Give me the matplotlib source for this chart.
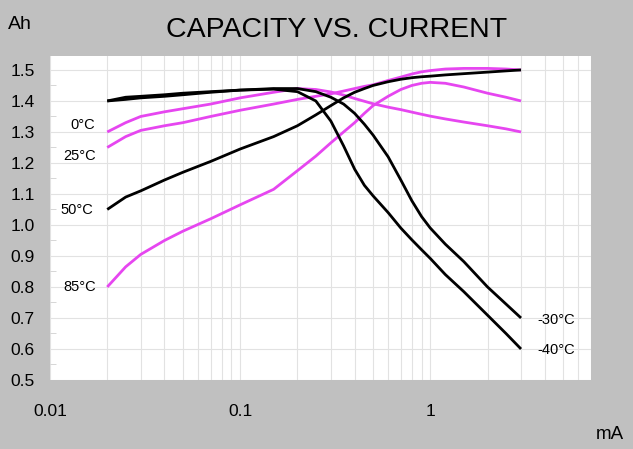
import matplotlib
matplotlib.use('Agg')
import matplotlib.pyplot as plt
from matplotlib.ticker import FixedLocator, FixedFormatter, MultipleLocator, LogLocator, NullFormatter

plt.rcParams['font.family'] = ['Liberation Sans', 'DejaVu Sans']

# Corriente (mA) comun a todas las curvas
current = [0.02, 0.025, 0.03, 0.04, 0.05, 0.07, 0.1, 0.15, 0.2, 0.25, 0.3,
           0.35, 0.4, 0.45, 0.5, 0.6, 0.7, 0.8, 0.9, 1, 1.2, 1.5, 2, 2.5, 3]

cap_m40 = [1.40, 1.412, 1.415, 1.42, 1.425, 1.43, 1.435, 1.438, 1.43, 1.40, 1.335,
           1.255, 1.18, 1.128, 1.094, 1.04, 0.99, 0.952, 0.92, 0.892, 0.84, 0.785,
           0.709, 0.65, 0.60]
cap_m30 = [1.40, 1.405, 1.41, 1.415, 1.42, 1.428, 1.435, 1.44, 1.44, 1.43, 1.412,
           1.39, 1.36, 1.325, 1.29, 1.22, 1.145, 1.078, 1.027, 0.99, 0.938, 0.882,
           0.80, 0.745, 0.70]
cap_50 = [1.05, 1.09, 1.11, 1.145, 1.17, 1.205, 1.245, 1.285, 1.32, 1.355, 1.385,
          1.41, 1.428, 1.44, 1.45, 1.462, 1.47, 1.475, 1.478, 1.48, 1.484, 1.488,
          1.493, 1.497, 1.50]
cap_0 = [1.30, 1.33, 1.35, 1.365, 1.375, 1.39, 1.41, 1.428, 1.44, 1.437, 1.429,
         1.419, 1.408, 1.399, 1.391, 1.38, 1.372, 1.364, 1.357, 1.351, 1.342, 1.332,
         1.32, 1.31, 1.30]
cap_25 = [1.25, 1.285, 1.305, 1.32, 1.33, 1.35, 1.37, 1.39, 1.405, 1.415, 1.423,
          1.432, 1.44, 1.447, 1.452, 1.466, 1.477, 1.487, 1.494, 1.498, 1.503, 1.505,
          1.505, 1.503, 1.50]
cap_85 = [0.80, 0.865, 0.905, 0.95, 0.98, 1.02, 1.065, 1.115, 1.175, 1.222, 1.265,
          1.30, 1.33, 1.36, 1.385, 1.415, 1.437, 1.45, 1.457, 1.46, 1.457, 1.445,
          1.425, 1.412, 1.40]

x_ticks = [0.01, 0.1, 1]
x_labels = ['0.01', '0.1', '1']
y_ticks = [0.5, 0.6, 0.7, 0.8, 0.9, 1.0, 1.1, 1.2, 1.3, 1.4, 1.5]

MAGENTA = '#e646f0'
BLACK = '#000000'

# (serie, color, etiqueta, extremo, desplazamiento en pixeles, alineacion)
curves = [
    (cap_0, MAGENTA, '0°C', 0, (-12, 3), 'right'),
    (cap_25, MAGENTA, '25°C', 0, (-11, -13), 'right'),
    (cap_85, MAGENTA, '85°C', 0, (-11, -4), 'right'),
    (cap_50, BLACK, '50°C', 0, (-14, -5), 'right'),
    (cap_m30, BLACK, '-30°C', -1, (16, -6), 'left'),
    (cap_m40, BLACK, '-40°C', -1, (16, -5), 'left'),
]

fig = plt.figure(figsize=(6.33, 4.49), dpi=100, facecolor='#c0c0c0')
ax = fig.add_axes([50 / 633, 1 - 380 / 449, 541 / 633, 324 / 449])
ax.set_facecolor('white')

for vals, col, lab, idx, off, ha in curves:
    ax.plot(current, vals, color=col, lw=2.0, solid_capstyle='butt',
            solid_joinstyle='round', zorder=3)
    ax.annotate(lab, xy=(current[idx], vals[idx]), xytext=off,
                textcoords='offset pixels', ha=ha, va='baseline',
                fontsize=10.5, color='black', annotation_clip=False)

ax.set_xscale('log')
ax.set_xlim(0.01, 7)
ax.set_ylim(0.5, 1.545)

ax.xaxis.set_major_locator(FixedLocator(x_ticks))
ax.xaxis.set_major_formatter(FixedFormatter(x_labels))
ax.xaxis.set_minor_locator(LogLocator(base=10, subs=range(2, 10)))
ax.xaxis.set_minor_formatter(NullFormatter())
ax.yaxis.set_major_locator(FixedLocator(y_ticks))
ax.yaxis.set_major_formatter(FixedFormatter([f'{v:.1f}' for v in y_ticks]))
ax.yaxis.set_minor_locator(MultipleLocator(0.05))

ax.grid(True, which='both', axis='x', color='#e2e2e2', lw=0.8)
ax.grid(True, which='major', axis='y', color='#e2e2e2', lw=0.8)
ax.set_axisbelow(True)

ax.tick_params(axis='x', which='both', length=0, labelsize=12.5, pad=17)
ax.tick_params(axis='y', which='major', length=0, labelsize=12.5, pad=11)
ax.tick_params(axis='y', which='minor', direction='in', length=4, color='#d0d0d0')

for sp in ax.spines.values():
    sp.set_visible(False)

fig.text(337 / 633, 1 - 37 / 449, 'CAPACITY VS. CURRENT', ha='center',
         va='baseline', fontsize=20.5)
fig.text(8 / 633, 1 - 29.3 / 449, 'Ah', ha='left', va='baseline', fontsize=14)
fig.text(596 / 633, 1 - 439.3 / 449, 'mA', ha='left', va='baseline', fontsize=13.5)

fig.savefig('out.png', dpi=100, facecolor=fig.get_facecolor())
